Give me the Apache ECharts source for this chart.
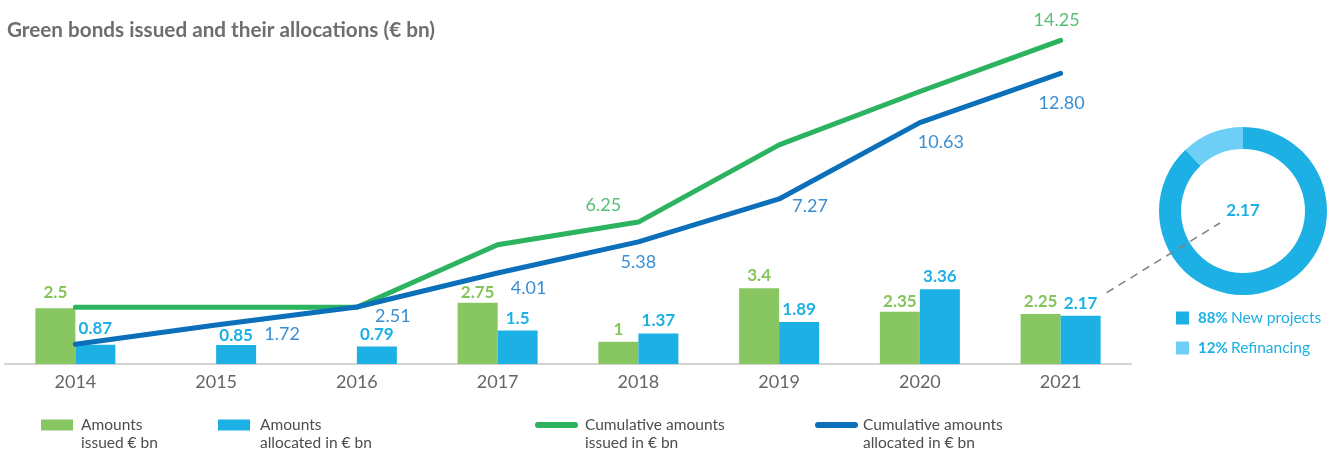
<!DOCTYPE html>
<html>
<head>
<meta charset="utf-8">
<script src="https://cdn.jsdelivr.net/npm/echarts@6/dist/echarts.min.js"></script>
<style>
  html, body { margin: 0; padding: 0; background: #fff; }
  #chart { width: 1338px; height: 450px; }
</style>
</head>
<body>
<div id="chart"></div>
<script>
// Green bond issuance and allocation, € bn
const years = ['2014', '2015', '2016', '2017', '2018', '2019', '2020', '2021'];
const issued = [2.5, null, null, 2.75, 1, 3.4, 2.35, 2.25];
const allocated = [0.87, 0.85, 0.79, 1.5, 1.37, 1.89, 3.36, 2.17];
const cumIssued = [2.5, 2.5, 2.5, 5.25, 6.25, 9.65, 12.0, 14.25];
const cumAllocated = [0.87, 1.72, 2.51, 4.01, 5.38, 7.27, 10.63, 12.80];
const splitNames = ['New projects', 'Refinancing'];
const splitShares = [88, 12];
const seriesNames = [
  'Amounts issued € bn',
  'Amounts allocated in € bn',
  'Cumulative amounts issued in € bn',
  'Cumulative amounts allocated in € bn'
];
const legendLines = [
  ['Amounts', 'issued € bn'],
  ['Amounts', 'allocated in € bn'],
  ['Cumulative amounts', 'issued in € bn'],
  ['Cumulative amounts', 'allocated in € bn']
];
const titleText = 'Green bonds issued and their allocations (€ bn)';

// palette
const C = {
  barGreen: '#88c661', barBlue: '#1cb0e4',
  lineGreen: '#2bb35f', lineBlue: '#0b6fba',
  lblGreen: '#55bf77', lblBlue: '#3a8fd4',
  barLblGreen: '#84c45a', text: '#4d4d4d', axis: '#d3d3d3',
  pieMain: '#1cb0e4', pieLight: '#6dcff6'
};
const FONT = 'Lato, "Open Sans", sans-serif';

// where each value label of the cumulative lines sits, relative to its point
const issuedLabelOffsets = { 4: [-35, -17], 7: [-4, -20] };
const allocatedLabelOffsets = { 1: [66, 9], 2: [36, 9], 3: [31, 15], 4: [0, 20], 5: [31, 7], 6: [21, 20], 7: [1, 30] };
// bar value labels sit a few px above the bar; some are nudged clear of the lines
const BAR_LABEL_GAP = 4;
const issuedLabelGap = { 0: 7, 3: 2, 6: 2 };
const allocatedLabelGap = { 0: 8, 1: 1, 2: 3 };

const pieCenter = [1243, 211];

function lineData(values, offsets, color) {
  return values.map((v, i) => ({
    value: v,
    label: offsets[i]
      ? { show: true, position: 'inside', offset: offsets[i], color: color,
          fontFamily: FONT, fontSize: 18, formatter: p => p.value.toFixed(2) }
      : { show: false }
  }));
}

function barData(values, gaps) {
  return values.map((v, i) => ({
    value: v,
    label: { distance: gaps[i] != null ? gaps[i] : BAR_LABEL_GAP }
  }));
}

// legend entry: the first text line is kept level with the swatch,
// the second one hangs below it
function legendBlock(idx, left, icon, iw, ih, padLeft) {
  return {
    left: left, top: 393, orient: 'horizontal', selectedMode: false,
    data: [seriesNames[idx]], icon: icon, itemWidth: iw, itemHeight: ih,
    formatter: () => ' \n' + legendLines[idx].join('\n'),
    textStyle: { fontFamily: FONT, fontSize: 15.5, color: C.text, lineHeight: 18, padding: [0, 0, 0, padLeft] }
  };
}
const lineIcon = 'path://M3,0 L40,0 A3,3 0 0 1 40,6 L3,6 A3,3 0 0 1 3,0 Z';

const chart = echarts.init(document.getElementById('chart'), null, { renderer: 'canvas' });

const option = {
  animation: false,
  backgroundColor: '#ffffff',
  title: [
    { text: titleText, left: 2, top: 15,
      textStyle: { fontFamily: FONT, fontSize: 20.7, fontWeight: 'bold', color: '#6d6e71' } },
    { text: allocated[7].toFixed(2), left: pieCenter[0], top: pieCenter[1], textAlign: 'center', textVerticalAlign: 'middle',
      padding: 0,
      textStyle: { fontFamily: FONT, fontSize: 17, fontWeight: 'bold', color: C.pieMain } }
  ],
  grid: { left: 5, right: 207, top: 30, bottom: 86, containLabel: false },
  xAxis: {
    type: 'category', data: years,
    axisLine: { lineStyle: { color: C.axis, width: 2 } },
    axisTick: { show: false },
    axisLabel: { fontFamily: FONT, fontSize: 18, color: '#666666', margin: 9 }
  },
  yAxis: [
    { type: 'value', min: 0, max: 15, show: false },
    { type: 'value', min: 0, max: 14.71, show: false }
  ],
  legend: [
    legendBlock(0, 36, 'rect', 32, 11, 3),
    legendBlock(1, 213, 'rect', 32, 11, 5),
    legendBlock(2, 530, lineIcon, 43, 6, 2),
    legendBlock(3, 810, lineIcon, 43, 6, 0),
    {
      left: 1171, top: 305, orient: 'vertical', selectedMode: false,
      data: splitNames, icon: 'rect', itemWidth: 13, itemHeight: 13, itemGap: 14,
      formatter: name => '{b|' + splitShares[splitNames.indexOf(name)] + '%} {n|' + name + '}',
      textStyle: {
        padding: [0, 0, 0, 4],
        rich: {
          b: { fontFamily: FONT, fontSize: 15, fontWeight: 'bold', color: C.pieMain },
          n: { fontFamily: FONT, fontSize: 15.5, color: C.pieMain }
        }
      }
    }
  ],
  series: [
    {
      name: seriesNames[0], type: 'bar', data: barData(issued, issuedLabelGap), yAxisIndex: 0,
      barWidth: 40, barGap: '0%', itemStyle: { color: C.barGreen },
      emphasis: { disabled: true },
      label: { show: true, position: 'top', fontFamily: FONT, fontSize: 17,
               fontWeight: 'bold', color: C.barLblGreen }
    },
    {
      name: seriesNames[1], type: 'bar', data: barData(allocated, allocatedLabelGap), yAxisIndex: 0,
      barWidth: 40, barGap: '0%', itemStyle: { color: C.barBlue },
      emphasis: { disabled: true },
      label: { show: true, position: 'top', fontFamily: FONT, fontSize: 17,
               fontWeight: 'bold', color: C.barBlue }
    },
    {
      name: seriesNames[2], type: 'line', yAxisIndex: 1,
      data: lineData(cumIssued, issuedLabelOffsets, C.lblGreen),
      symbol: 'circle', symbolSize: 2, showSymbol: true,
      itemStyle: { color: C.lineGreen },
      lineStyle: { color: C.lineGreen, width: 5, cap: 'round', join: 'round' },
      emphasis: { disabled: true }, z: 3
    },
    {
      name: seriesNames[3], type: 'line', yAxisIndex: 1,
      data: lineData(cumAllocated, allocatedLabelOffsets, C.lblBlue),
      symbol: 'circle', symbolSize: 2, showSymbol: true,
      itemStyle: { color: C.lineBlue },
      lineStyle: { color: C.lineBlue, width: 5, cap: 'round', join: 'round' },
      emphasis: { disabled: true }, z: 4
    },
    {
      type: 'pie', center: pieCenter, radius: [62, 84], startAngle: 90, clockwise: true,
      silent: true, label: { show: false }, labelLine: { show: false },
      data: splitNames.map((n, i) => ({
        name: n, value: splitShares[i],
        itemStyle: { color: i === 0 ? C.pieMain : C.pieLight }
      }))
    }
  ]
};

chart.setOption(option);

// dashed connector from the 2021 allocation bar to the breakdown ring
const barTop = chart.convertToPixel({ xAxisIndex: 0, yAxisIndex: 0 }, [7, allocated[7]]);
chart.setOption({
  graphic: [{
    type: 'line', z: 100, silent: true,
    shape: { x1: barTop[0] + 46, y1: barTop[1] - 23, x2: pieCenter[0] - 23, y2: pieCenter[1] + 12 },
    style: { stroke: '#808080', lineWidth: 1.5, lineDash: [8, 6] }
  }]
});
</script>
</body>
</html>
